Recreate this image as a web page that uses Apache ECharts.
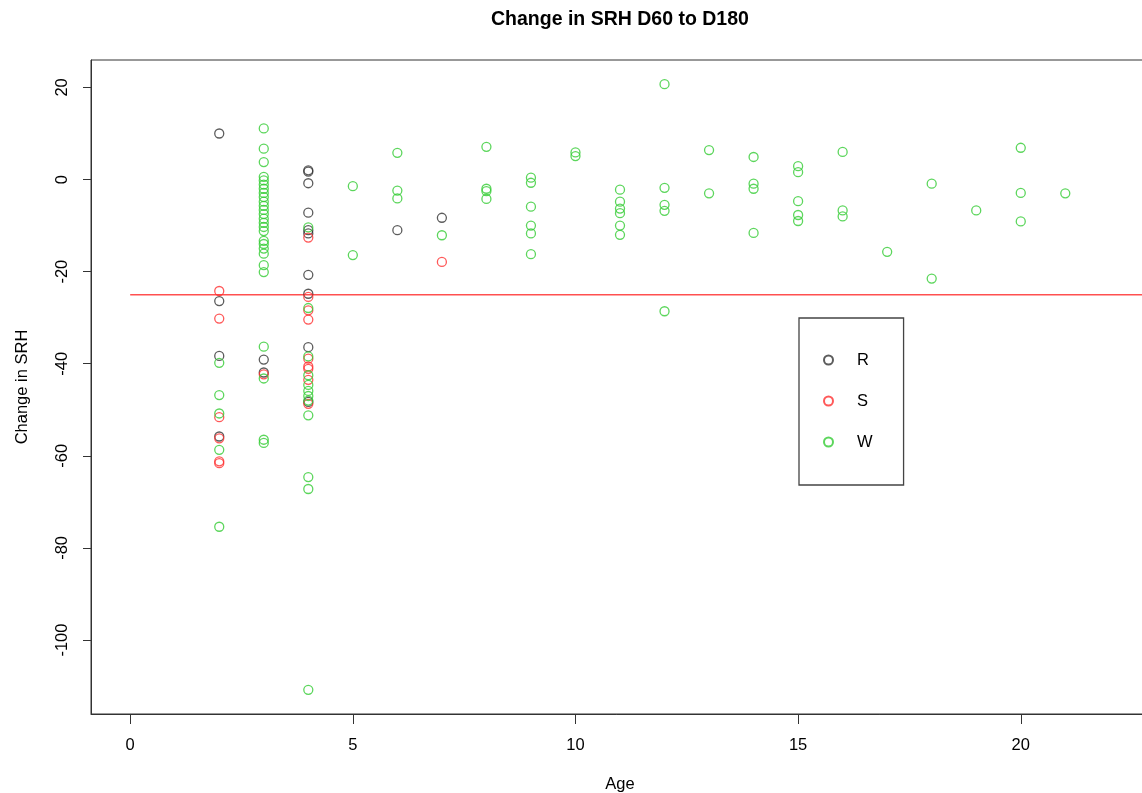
<!DOCTYPE html>
<html>
<head>
<meta charset="utf-8">
<script src="https://cdn.jsdelivr.net/npm/echarts@6/dist/echarts.min.js"></script>
<style>
html,body{margin:0;padding:0;background:#fff;overflow:hidden;}
#chart{width:1142px;height:793px;}
</style>
</head>
<body>
<div id="chart"></div>
<script>
// ---- data ----
const xTicks = [0, 5, 10, 15, 20];
const yTicks = [-100, -80, -60, -40, -20, 0, 20];
const thresholdY = -25;

const rAge = [2, 2, 2, 2,
  3, 3,
  4, 4, 4, 4, 4, 4, 4, 4, 4, 4,
  6, 7];
const rVal = [10.0, -26.4, -38.3, -55.8,
  -39.1, -41.9,
  2.0, 1.7, -0.8, -7.2, -11.0, -11.7, -20.7, -24.8, -36.4, -48.3,
  -11.0, -8.3];

const sAge = [2, 2, 2, 2, 2, 2,
  3,
  4, 4, 4, 4, 4, 4, 4, 4, 4,
  7];
const sVal = [-24.2, -30.2, -51.6, -56.2, -61.2, -61.6,
  -42.3,
  -12.6, -25.5, -28.4, -30.4, -38.9, -40.6, -41.1, -43.5, -48.7,
  -17.9];

// W group, listed per age column
const wAge = [2, 2, 2, 2, 2,
  3, 3, 3, 3, 3, 3, 3, 3, 3, 3,
  3, 3, 3, 3, 3, 3, 3, 3, 3, 3,
  3, 3, 3, 3, 3, 3, 3,
  4, 4, 4, 4, 4, 4, 4, 4, 4, 4, 4, 4,
  5, 5,
  6, 6, 6,
  7,
  8, 8, 8, 8,
  9, 9, 9, 9, 9, 9,
  10, 10,
  11, 11, 11, 11, 11, 11,
  12, 12, 12, 12, 12,
  13, 13,
  14, 14, 14, 14,
  15, 15, 15, 15, 15,
  16, 16, 16,
  17,
  18, 18,
  19,
  20, 20, 20,
  21];
const wVal = [-39.8, -46.8, -50.8, -58.7, -75.4,
  11.1, 6.7, 3.8, 0.6, -0.2, -1.1, -2.0, -2.9, -3.8, -4.8,
  -5.7, -6.6, -7.5, -8.5, -9.4, -10.3, -11.2, -13.3, -14.0, -15.0,
  -16.1, -18.6, -20.1, -36.3, -43.2, -56.5, -57.2,
  -10.4, -27.9, -38.4, -42.5, -44.6, -45.9, -47.0, -48.0, -51.2, -64.6, -67.2, -110.8,
  -1.45, -16.4,
  5.8, -2.4, -4.1,
  -12.1,
  7.1, -2.0, -2.5, -4.2,
  0.4, -0.7, -5.9, -10.0, -11.7, -16.2,
  5.9, 5.1,
  -2.2, -4.8, -6.3, -7.3, -10.0, -12.0,
  20.7, -1.8, -5.5, -6.8, -28.6,
  6.4, -3.0,
  4.9, -0.9, -2.0, -11.6,
  2.9, 1.6, -4.7, -7.7, -9.0,
  6.0, -6.7, -8.0,
  -15.7,
  -0.9, -21.5,
  -6.7,
  6.9, -2.9, -9.1,
  -3.0];

// R-style axis ranges: data range extended 4% on each side
const xDataMin = 0, xDataMax = 22;
const yDataMin = Math.min(...rVal, ...sVal, ...wVal);
const yDataMax = Math.max(...rVal, ...sVal, ...wVal);
const xPad = (xDataMax - xDataMin) * 0.04;
const yPad = (yDataMax - yDataMin) * 0.04;

function pairs(a, v) { return a.map((x, i) => [x, v[i]]); }

const FONT = '"Liberation Sans", Arial, sans-serif';

function scatter(name, ages, vals, color) {
  return {
    name: name,
    type: 'scatter',
    data: pairs(ages, vals),
    symbol: 'circle',
    symbolSize: 9,
    itemStyle: { color: 'rgba(255,255,255,0)', borderColor: color, borderWidth: 1.3 },
    emphasis: { disabled: true }
  };
}

const chart = echarts.init(document.getElementById('chart'), null, { renderer: 'canvas' });
chart.setOption({
  animation: false,
  backgroundColor: '#ffffff',
  title: {
    text: 'Change in SRH D60 to D180',
    left: 486, top: 5,
    textStyle: { fontFamily: FONT, fontSize: 19.5, fontWeight: 'bold', color: '#000' }
  },
  grid: {
    left: 91, top: 60, right: -7, bottom: 79,
    outerBoundsMode: 'none',
    containLabel: false,
    show: true, borderColor: '#333', borderWidth: 1, backgroundColor: 'transparent'
  },
  legend: {
    orient: 'vertical',
    left: 799, top: 318,
    data: ['R', 'S', 'W'],
    itemWidth: 9, itemHeight: 9,
    itemGap: 23,
    padding: [33, 31, 34, 24],
    borderColor: '#444', borderWidth: 1.3,
    textStyle: { fontFamily: FONT, fontSize: 16.5, color: '#000', lineHeight: 18, padding: [0, 0, 0, 19] },
    selectedMode: false
  },
  xAxis: {
    type: 'value',
    min: xDataMin - xPad, max: xDataMax + xPad,
    name: 'Age', nameLocation: 'middle', nameGap: 62,
    nameTextStyle: { fontFamily: FONT, fontSize: 16.5, color: '#000' },
    splitLine: { show: false },
    axisLine: { show: true, onZero: false, lineStyle: { color: '#333', width: 1 } },
    axisTick: { show: true, length: 10, customValues: xTicks, lineStyle: { color: '#333' } },
    axisLabel: { customValues: xTicks, margin: 23, fontFamily: FONT, fontSize: 16.5, color: '#000' }
  },
  yAxis: {
    type: 'value',
    min: yDataMin - yPad, max: yDataMax + yPad,
    name: 'Change in SRH', nameLocation: 'middle', nameGap: 60, nameRotate: 90,
    nameTextStyle: { fontFamily: FONT, fontSize: 16.5, color: '#000' },
    splitLine: { show: false },
    axisLine: { show: true, onZero: false, lineStyle: { color: '#333', width: 1 } },
    axisTick: { show: true, length: 8, customValues: yTicks, lineStyle: { color: '#333' } },
    axisLabel: { customValues: yTicks, rotate: 90, margin: 20, fontFamily: FONT, fontSize: 16.5, color: '#000' }
  },
  series: [
    {
      name: 'threshold',
      type: 'line',
      data: [[0, thresholdY], [xDataMax + 2, thresholdY]],
      symbol: 'none',
      lineStyle: { color: '#ff5050', width: 1.5 },
      silent: true,
      z: 1
    },
    scatter('R', rAge, rVal, '#333333'),
    scatter('S', sAge, sVal, '#ff3030'),
    scatter('W', wAge, wVal, '#33cc33')
  ]
});
</script>
</body>
</html>
